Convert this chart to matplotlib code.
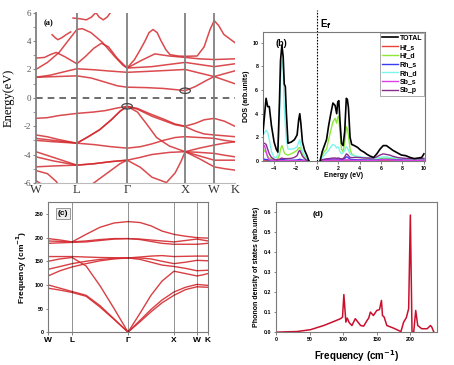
"""Four-panel figure: electronic bands (a), projected DOS (b),
phonon dispersion (c) and phonon DOS (d). Writes out.png."""

import matplotlib
matplotlib.use("Agg")
import matplotlib.pyplot as plt
from matplotlib.patches import Ellipse

# ---------------- (a) electronic band structure ----------------
# high-symmetry points along W-L-G-X-W-K (path length, 2pi/a units)
KPTS = [0.0, 0.707, 1.573, 2.573, 3.073, 3.427]
KLABELS = ["W", "L", "Γ", "X", "W", "K"]

# each band: (k, E in eV)
cb1 = [(0, 1.45), (0.35, 1.5), (0.707, 1.55), (0.95, 1.4), (1.2, 1.1), (1.4, 0.85),
       (1.573, 0.75), (1.9, 0.72), (2.2, 0.66), (2.45, 0.56), (2.573, 0.5), (2.75, 0.8),
       (2.95, 1.25), (3.073, 1.5), (3.25, 1.25), (3.427, 1.0)]
cb2 = [(0, 1.45), (0.25, 1.6), (0.5, 1.85), (0.707, 2.05), (1.0, 1.98), (1.3, 1.88),
       (1.573, 1.8), (1.9, 1.86), (2.25, 1.93), (2.573, 2.0), (2.82, 1.75), (3.073, 1.5),
       (3.25, 1.7), (3.427, 1.9)]
cb3 = [(0, 2.0), (0.2, 2.5), (0.4, 3.2), (0.55, 4.0), (0.707, 4.82), (0.8, 4.88),
       (0.95, 4.6), (1.15, 3.9), (1.35, 2.95), (1.5, 2.3), (1.573, 2.1), (1.7, 2.7),
       (1.8, 3.4), (1.88, 4.0), (1.95, 4.6), (2.02, 4.82), (2.09, 4.6), (2.16, 4.0),
       (2.24, 3.4), (2.31, 3.05), (2.45, 2.95), (2.573, 2.93), (2.78, 2.95), (2.9, 3.6),
       (3.0, 4.8), (3.073, 5.45), (3.15, 5.1), (3.24, 4.47), (3.427, 3.9)]
cb4 = [(0, 2.8), (0.15, 2.85), (0.25, 3.05), (0.35, 3.2), (0.5, 2.9), (0.707, 2.4),
       (0.85, 2.9), (1.0, 3.5), (1.13, 3.85), (1.25, 3.6), (1.4, 2.8), (1.573, 2.1),
       (1.8, 2.6), (2.05, 3.1), (2.3, 2.95), (2.573, 2.85), (2.82, 2.75), (3.073, 2.7),
       (3.427, 2.75)]
cb5 = [(1.573, 2.1), (2.0, 2.2), (2.573, 2.5), (2.82, 2.35), (3.073, 2.2), (3.427, 2.4)]
cb6 = [(0.28, 4.45), (0.33, 4.25), (0.38, 4.1), (0.45, 4.25), (0.52, 4.45), (0.6, 4.65)]
cb7 = [(0.64, 5.63), (0.76, 5.58), (0.87, 5.5), (0.96, 5.7), (1.03, 6.0)]
cb8 = [(1.02, 6.1), (1.09, 5.7), (1.16, 5.5), (1.23, 5.7), (1.3, 6.1)]

vb1 = [(0, -1.45), (0.2, -1.4), (0.4, -1.25), (0.707, -1.1), (1.0, -1.0), (1.2, -0.9),
       (1.4, -0.72), (1.573, -0.6), (1.75, -0.75), (1.95, -1.1), (2.2, -1.5),
       (2.4, -1.85), (2.573, -2.0), (2.75, -1.8), (2.9, -1.55), (3.073, -1.45),
       (3.25, -1.65), (3.427, -2.0)]
vb2 = [(0, -2.62), (0.2, -2.75), (0.4, -2.95), (0.707, -3.2), (0.9, -2.75), (1.1, -2.25),
       (1.3, -1.55), (1.45, -0.95), (1.573, -0.6), (1.75, -0.8), (2.0, -1.3), (2.2, -1.6),
       (2.4, -1.9), (2.573, -2.03), (2.75, -2.35), (2.9, -2.55), (3.073, -2.62),
       (3.25, -2.68), (3.427, -2.74)]
vb3 = [(0, -2.86), (0.3, -3.0), (0.707, -3.2), (0.9, -2.75), (1.1, -2.25), (1.3, -1.55),
       (1.45, -0.95), (1.573, -0.6), (1.75, -1.0), (1.9, -1.8), (2.08, -2.8), (2.3, -3.4),
       (2.573, -3.8), (2.82, -3.85), (3.073, -3.92), (3.25, -4.05), (3.427, -4.16)]
vb4 = [(0, -3.0), (0.3, -3.1), (0.707, -3.2), (1.0, -3.3), (1.3, -3.45), (1.573, -3.55),
       (1.8, -3.45), (2.0, -3.25), (2.2, -3.0), (2.4, -2.8), (2.573, -2.74), (2.82, -2.8),
       (3.073, -2.86), (3.25, -3.0), (3.427, -3.1)]
vb5 = [(0, -3.8), (0.3, -4.2), (0.707, -4.75), (1.0, -4.65), (1.3, -4.5), (1.573, -4.4),
       (1.8, -4.2), (2.0, -4.0), (2.3, -3.85), (2.573, -3.8), (2.82, -3.55), (3.073, -3.33),
       (3.25, -3.2), (3.427, -3.1)]
vb6 = [(0, -4.16), (0.3, -4.45), (0.707, -4.75), (1.0, -4.65), (1.3, -4.5), (1.573, -4.4),
       (1.8, -4.9), (2.0, -5.6), (2.25, -5.98), (2.4, -5.3), (2.5, -4.5), (2.573, -3.8),
       (2.82, -4.1), (3.073, -4.4), (3.25, -4.4), (3.427, -4.4)]
vb7 = [(0.9, -6.3), (1.1, -5.7), (1.3, -5.1), (1.45, -4.65), (1.573, -4.4)]
vb8 = [(0, -4.87), (0.35, -4.8), (0.707, -4.75)]
vb9 = [(0, -5.13), (0.2, -5.35), (0.35, -5.9), (0.42, -6.3)]
vb10 = [(0, -5.84), (0.1, -6.1), (0.15, -6.3)]
vb11 = [(2.573, -3.8), (2.82, -4.3), (3.073, -4.87), (3.25, -5.0), (3.427, -5.1)]

BANDS = [cb1, cb2, cb3, cb4, cb5, cb6, cb7, cb8,
         vb1, vb2, vb3, vb4, vb5, vb6, vb7, vb8, vb9, vb10, vb11]

# ---------------- (b) projected DOS ----------------
e_val = [-5.05, -4.9, -4.75, -4.6, -4.45, -4.25, -4.0, -3.8, -3.65, -3.5, -3.4, -3.27,
         -3.15, -3.05, -2.95, -2.85, -2.7, -2.4, -2.1, -1.85, -1.7, -1.6, -1.5, -1.35,
         -1.15, -0.95, -0.75]
total_val = [2.3, 3.8, 5.3, 4.6, 4.6, 3.0, 1.6, 1.0, 0.75, 5.0, 8.5, 9.8, 8.8, 6.5, 6.3,
             4.0, 1.5, 1.6, 1.8, 2.2, 3.5, 4.0, 3.2, 1.6, 0.9, 0.5, 0.0]
hfs_val = [0.05, 0.06, 0.06, 0.05, 0.04, 0.03, 0.03, 0.03, 0.03, 0.04, 0.05, 0.05, 0.05,
           0.04, 0.04, 0.04, 0.03, 0.03, 0.03, 0.04, 0.05, 0.05, 0.04, 0.03, 0.02, 0.01, 0.0]
hfd_val = [0.75, 0.9, 0.7, 0.4, 0.25, 0.15, 0.1, 0.1, 0.2, 0.5, 1.0, 1.3, 1.0, 0.7, 0.6,
           0.55, 0.5, 0.6, 0.75, 0.9, 1.1, 1.15, 1.0, 0.6, 0.3, 0.1, 0.0]
rhs_val = [0.15, 0.15, 0.12, 0.1, 0.08, 0.06, 0.05, 0.05, 0.05, 0.08, 0.12, 0.15, 0.12,
           0.1, 0.08, 0.07, 0.06, 0.06, 0.07, 0.08, 0.12, 0.15, 0.12, 0.08, 0.05, 0.02, 0.0]
rhd_val = [2.2, 2.4, 2.6, 2.4, 1.8, 0.8, 0.3, 0.3, 0.5, 3.5, 7.0, 8.6, 7.6, 4.5, 3.0, 1.8,
           1.0, 1.0, 1.05, 1.2, 1.6, 1.8, 1.3, 0.8, 0.5, 0.2, 0.0]
sbs_val = [1.2, 1.3, 0.8, 0.3, 0.1, 0.05, 0.03, 0.02, 0.02, 0.02, 0.02, 0.02, 0.02, 0.02,
           0.02, 0.02, 0.02, 0.02, 0.02, 0.02, 0.03, 0.03, 0.03, 0.02, 0.02, 0.01, 0.0]
sbp_val = [1.45, 1.5, 1.4, 1.0, 0.6, 0.3, 0.15, 0.1, 0.1, 0.15, 0.2, 0.25, 0.2, 0.2, 0.2,
           0.2, 0.2, 0.22, 0.3, 0.45, 0.8, 0.9, 0.7, 0.4, 0.2, 0.05, 0.0]

e_con = [0.3, 0.5, 0.7, 0.9, 1.1, 1.3, 1.5, 1.7, 1.85, 1.95, 2.05, 2.15, 2.3, 2.45, 2.6,
         2.75, 2.85, 2.95, 3.1, 3.25, 3.5, 3.8, 4.1, 4.4, 4.7, 5.0, 5.3, 5.6, 5.9, 6.2,
         6.5, 6.8, 7.1, 7.5, 7.9, 8.3, 8.7, 9.1, 9.5, 9.8, 10.0]
total_con = [0.0, 0.8, 1.3, 1.8, 3.0, 4.0, 4.9, 4.7, 4.0, 5.0, 5.1, 3.5, 1.5, 1.3, 2.5,
             5.3, 5.2, 4.5, 2.0, 1.4, 1.3, 1.15, 0.9, 0.75, 0.55, 0.4, 0.3, 0.6, 1.0, 1.3,
             1.3, 1.1, 0.9, 0.7, 0.5, 0.45, 0.3, 0.2, 0.25, 0.3, 0.6]
hfs_con = [0.0, 0.03, 0.04, 0.05, 0.05, 0.06, 0.06, 0.06, 0.05, 0.06, 0.06, 0.05, 0.04,
           0.04, 0.05, 0.07, 0.07, 0.06, 0.05, 0.04, 0.04, 0.04, 0.04, 0.03, 0.03, 0.03,
           0.03, 0.04, 0.05, 0.06, 0.06, 0.05, 0.05, 0.04, 0.04, 0.04, 0.03, 0.03, 0.03,
           0.03, 0.04]
hfd_con = [0.0, 0.5, 0.8, 1.0, 1.8, 2.6, 3.3, 3.6, 3.2, 3.7, 3.8, 2.5, 1.0, 0.8, 1.5, 2.9,
           2.7, 2.2, 1.0, 0.6, 0.45, 0.35, 0.3, 0.25, 0.2, 0.15, 0.12, 0.15, 0.2, 0.25,
           0.25, 0.22, 0.2, 0.18, 0.16, 0.15, 0.12, 0.1, 0.1, 0.12, 0.15]
rhs_con = [0.0, 0.08, 0.1, 0.12, 0.14, 0.15, 0.16, 0.16, 0.15, 0.16, 0.16, 0.14, 0.12, 0.13,
           0.2, 0.35, 0.33, 0.25, 0.15, 0.12, 0.11, 0.1, 0.1, 0.09, 0.08, 0.08, 0.07, 0.09,
           0.12, 0.14, 0.14, 0.13, 0.12, 0.1, 0.09, 0.08, 0.07, 0.06, 0.06, 0.07, 0.1]
rhd_con = [0.0, 0.3, 0.5, 0.7, 0.9, 1.2, 1.4, 1.3, 1.1, 1.2, 1.1, 0.8, 0.6, 0.7, 0.9, 1.2,
           1.1, 0.9, 0.6, 0.5, 0.45, 0.4, 0.35, 0.3, 0.28, 0.25, 0.22, 0.25, 0.3, 0.35,
           0.35, 0.3, 0.28, 0.25, 0.22, 0.2, 0.18, 0.15, 0.15, 0.17, 0.2]
sbs_con = [0.0, 0.04, 0.05, 0.06, 0.06, 0.07, 0.07, 0.07, 0.06, 0.07, 0.07, 0.06, 0.05,
           0.05, 0.07, 0.1, 0.1, 0.08, 0.06, 0.05, 0.05, 0.05, 0.05, 0.04, 0.04, 0.04,
           0.04, 0.06, 0.08, 0.1, 0.1, 0.09, 0.08, 0.07, 0.06, 0.05, 0.05, 0.04, 0.04,
           0.05, 0.06]
sbp_con = [0.0, 0.1, 0.15, 0.18, 0.2, 0.22, 0.25, 0.25, 0.22, 0.25, 0.25, 0.2, 0.18, 0.2,
           0.35, 0.6, 0.55, 0.45, 0.3, 0.28, 0.3, 0.3, 0.28, 0.26, 0.25, 0.24, 0.25, 0.35,
           0.5, 0.6, 0.55, 0.5, 0.4, 0.3, 0.25, 0.22, 0.2, 0.18, 0.18, 0.2, 0.22]

# ---------------- (c) phonon dispersion ----------------
QPTS = [0, 24, 80, 126, 149, 160]          # W L G X W K (relative path length)
q = [0, 12, 24, 38, 52, 66, 80, 92, 103, 114, 126, 137.5, 149, 154.5, 160]
ph1 = [198, 195, 191, 207, 222, 231, 234, 232, 225, 214, 207, 203, 200, 199.5, 199]
ph2 = [193, 192, 191, 193, 196, 198, 198, 197, 195, 193, 191, 194, 197, 195, 193]
ph3 = [188, 189, 190, 191, 194, 197, 198, 196, 192, 188, 186, 186, 186, 187, 188]
ph4 = [160, 160, 160, 159, 158, 157.5, 157, 159, 161, 162, 160, 160.5, 161, 161, 161]
ph5 = [150, 155, 158, 140, 98, 50, 0, 40, 78, 108, 129, 124, 119, 121, 124]
ph6 = [133, 139, 145, 150, 154, 156, 157, 157, 155, 150, 145, 148, 152, 151.5, 151]
ph7 = [119, 130, 138, 145, 151, 155, 157, 154, 148, 142, 139, 135, 130, 130.5, 131]
ph8 = [100, 93, 86, 78, 56, 28, 0, 25, 48, 68, 85, 95, 101, 100, 99]
ph9 = [93, 89, 84, 76, 53, 27, 0, 22, 43, 62, 78, 90, 96, 95.5, 95]
PHONON = [ph1, ph2, ph3, ph4, ph5, ph6, ph7, ph8, ph9]

# ---------------- (d) phonon DOS ----------------
freq = [0, 31, 51, 71, 86, 96, 99, 101, 104, 106, 109, 113, 118, 122, 126, 130.5, 135.5,
        138, 140.5, 145, 150, 154, 157, 158.5, 161, 165, 175, 182.6, 186, 190, 194, 197.5,
        200, 202.5, 205, 208, 211, 217, 225, 230, 232, 235]
pdos = [0.0, 0.003, 0.012, 0.033, 0.053, 0.067, 0.075, 0.187, 0.05, 0.07, 0.047, 0.033,
        0.067, 0.05, 0.033, 0.03, 0.058, 0.07, 0.1, 0.083, 0.108, 0.112, 0.158, 0.083,
        0.075, 0.033, 0.02, 0.008, 0.003, 0.05, 0.072, 0.117, 0.583, 0.0, 0.0, 0.108,
        0.033, 0.017, 0.017, 0.033, 0.025, 0.0]

RED = "#d42a2f"
SANS = "Liberation Sans"
SERIF = "Liberation Serif"

fig = plt.figure(figsize=(4.54, 3.65), dpi=100)

# -- Panel (a) --
ax = fig.add_axes([0.079, 0.499, 0.438, 0.466])
for band in BANDS:
    ax.plot([p[0] for p in band], [p[1] for p in band], color=RED, lw=1.1, alpha=0.85)
for k in KPTS[1:-1]:
    ax.axvline(k, color="#808080", lw=1.3, zorder=3)
ax.axhline(0, color="#555555", lw=1.2, ls=(0, (4, 3)))
ax.add_patch(Ellipse((KPTS[2], -0.6), 0.18, 0.38, fill=False, ec="#444444", lw=0.9, zorder=4))
ax.add_patch(Ellipse((KPTS[3], 0.5), 0.18, 0.38, fill=False, ec="#444444", lw=0.9, zorder=4))
ax.set_xlim(KPTS[0], KPTS[-1])
ax.set_ylim(-6, 6)
ax.set_xticks(KPTS)
ax.set_xticklabels(KLABELS, family=SERIF, fontsize=9, color="#333333")
ax.tick_params(axis="x", length=0, pad=1)
ax.set_yticks(range(-6, 7, 2))
ax.set_yticks(range(-5, 6, 2), minor=True)
ax.set_yticklabels([str(v) for v in range(-6, 7, 2)], family=SERIF, fontsize=6.5,
                   color="#555555")
ax.tick_params(axis="y", which="both", length=2.5, color="#888888", pad=1)
ax.set_ylabel("Energy(eV)", family=SERIF, fontsize=9, labelpad=6)
for s in ("top", "right"):
    ax.spines[s].set_visible(False)
ax.spines["left"].set_color("#808080")
ax.spines["left"].set_linewidth(1.3)
ax.spines["bottom"].set_color("#bbbbbb")
ax.text(0.04, 0.96, "(a)", transform=ax.transAxes, family=SERIF, fontweight="bold",
        fontsize=6, va="top")

# -- Panel (b) --
ax = fig.add_axes([0.579, 0.559, 0.357, 0.353])
pdos_series = [("Hf_s", "#e8413c", hfs_val, hfs_con),
               ("Hf_d", "#8ee83a", hfd_val, hfd_con),
               ("Rh_s", "#3b3bf0", rhs_val, rhs_con),
               ("Rh_d", "#7ef4ee", rhd_val, rhd_con),
               ("Sb_s", "#e040e8", sbs_val, sbs_con),
               ("Sb_p", "#8a2c8c", sbp_val, sbp_con)]
ax.plot(e_val, total_val, color="black", lw=1.2, zorder=5, label="TOTAL")
ax.plot(e_con, total_con, color="black", lw=1.2, zorder=5)
for name, c, v, cn in pdos_series:
    ax.plot(e_val, v, color=c, lw=1.0, label=name)
    ax.plot(e_con, cn, color=c, lw=1.0)
ax.plot([0, 0], [0, 12.8], color="black", lw=0.8, ls=(0, (1.5, 1.2)), clip_on=False)
ax.text(0.25, 11.3, "E$_\\mathbf{f}$", fontsize=7, fontweight="bold", family=SANS)
ax.set_xlim(-5.05, 10.1)
ax.set_ylim(0, 10.9)
ax.set_xticks(range(-4, 11, 2))
ax.set_yticks(range(0, 11, 2))
ax.set_xlabel("Energy (eV)", family=SANS, fontweight="bold", fontsize=5, labelpad=1)
ax.set_ylabel("DOS (arb.units)", family=SANS, fontweight="bold", fontsize=5, labelpad=2)
ax.text(0.08, 0.95, "(b)", transform=ax.transAxes, family=SANS, fontweight="bold",
        fontsize=6.5, va="top")
leg = ax.legend(loc="upper right", prop={"family": SANS, "weight": "bold", "size": 5},
                handlelength=2.2, labelspacing=0.25, borderpad=0.3, borderaxespad=0.1,
                fancybox=False, edgecolor="#888888", handletextpad=0.3)
leg.get_frame().set_linewidth(0.6)

# -- Panel (c) --
ax = fig.add_axes([0.106, 0.090, 0.352, 0.356])
for br in PHONON:
    ax.plot(q, br, color=RED, lw=1.0, alpha=0.9)
for x in QPTS[1:-1]:
    ax.axvline(x, color="black", lw=0.6, ls=(0, (1.2, 1.2)))
ax.set_xlim(0, 160)
ax.set_ylim(0, 275)
ax.set_xticks(QPTS)
ax.set_xticklabels(KLABELS, family=SANS, fontweight="bold", fontsize=6)
ax.tick_params(axis="x", length=2, pad=1)
ax.set_yticks(range(0, 251, 50))
ax.set_ylabel("Frequency (cm$^{\\mathbf{-1}}$)", family=SANS, fontweight="bold",
              fontsize=6, labelpad=4)
ax.text(0.06, 0.94, "(c)", transform=ax.transAxes, family=SANS, fontweight="bold",
        fontsize=6, va="top",
        bbox=dict(boxstyle="square,pad=0.25", fc="#eeeeee", ec="#888888", lw=0.6))

# -- Panel (d) --
ax = fig.add_axes([0.608, 0.090, 0.355, 0.356])
ax.plot(freq, pdos, color="#c8102e", lw=1.1)
ax.set_xlim(0, 240)
ax.set_ylim(0, 0.647)
ax.set_xticks(range(0, 201, 50))
ax.set_yticks([0, 0.1, 0.2, 0.3, 0.4, 0.5, 0.6])
ax.set_xlabel("Frequency (cm$^{\\mathbf{-1}}$)", family=SANS, fontweight="bold",
              fontsize=7, labelpad=5)
ax.set_ylabel("Phonon density of states (arb.units)", family=SANS, fontweight="bold",
              fontsize=5, labelpad=3)
ax.text(0.23, 0.93, "(d)", transform=ax.transAxes, family=SANS, fontweight="bold",
        fontsize=6, va="top")

# shared look for the three sans panels
for a in fig.axes[1:]:
    for s in a.spines.values():
        s.set_color("#7a7a7a")
        s.set_linewidth(0.8)
    a.tick_params(axis="both", which="major", labelsize=3.8, length=1.8, width=0.5,
                  pad=1.5, color="#555555")
    for lab in a.get_xticklabels() + a.get_yticklabels():
        lab.set_fontweight("bold")
        lab.set_family(SANS)
fig.axes[2].tick_params(axis="x", labelsize=6)

fig.savefig("out.png", dpi=100)
